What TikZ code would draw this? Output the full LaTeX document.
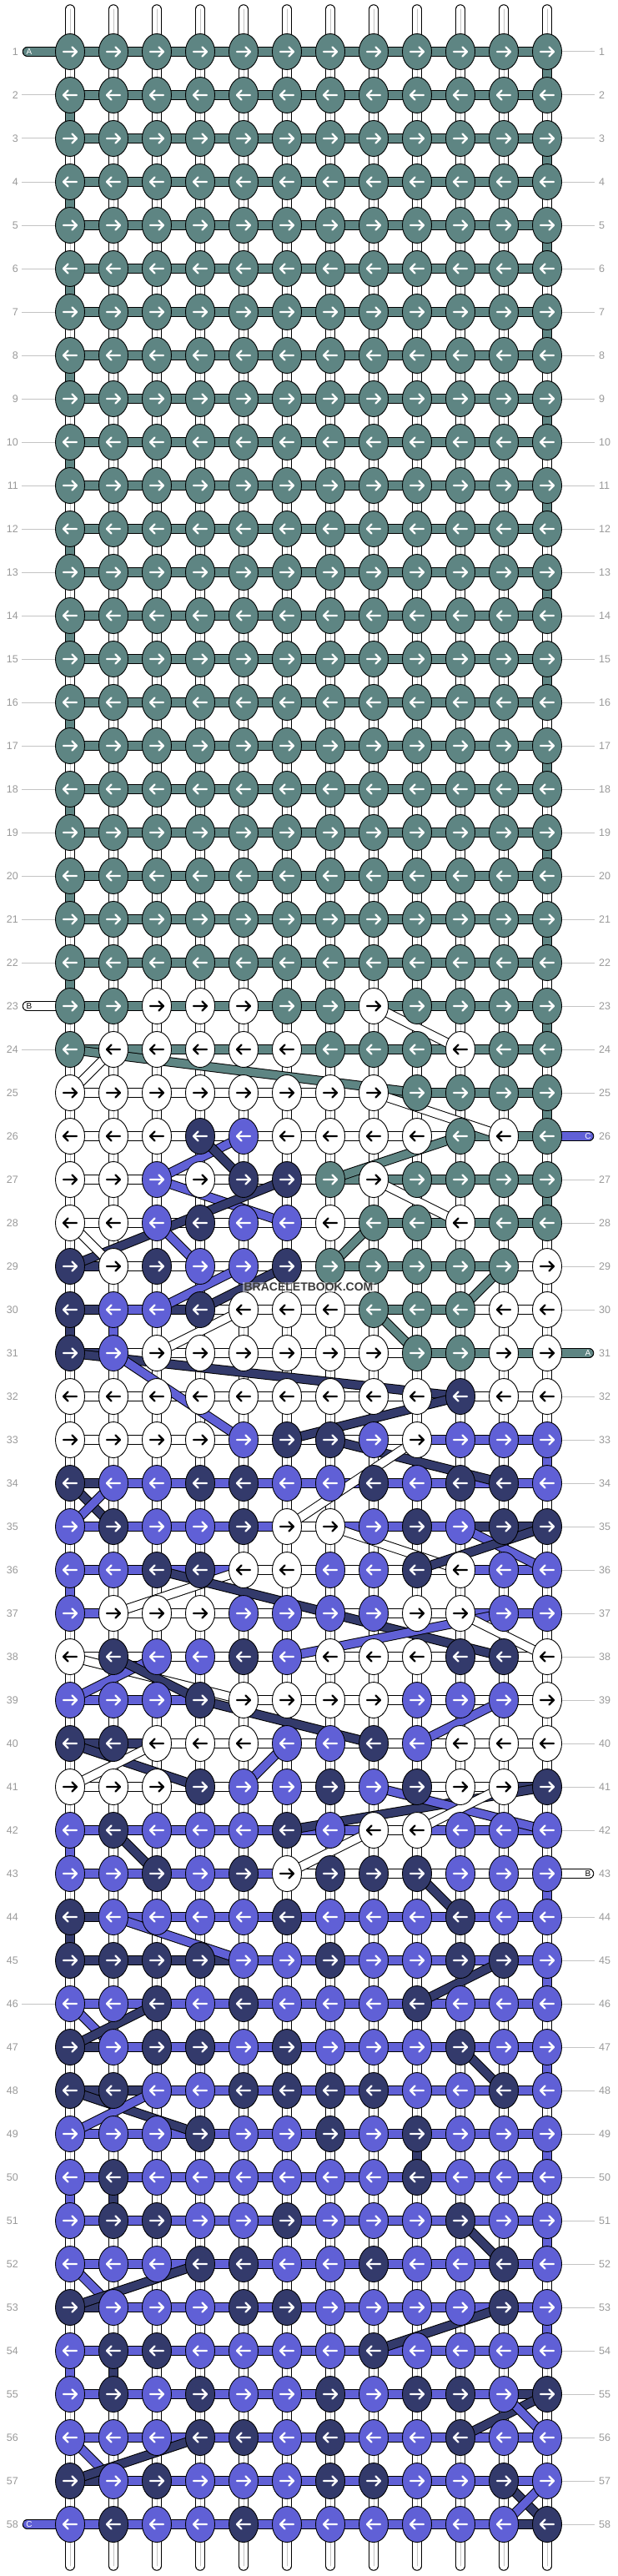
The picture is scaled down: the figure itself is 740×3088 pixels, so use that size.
\documentclass[tikz,border=0pt]{standalone}
\usepackage{fontspec}
\setmainfont{Liberation Sans}
\usetikzlibrary{shapes.geometric}
\definecolor{cT}{HTML}{5E8583}
\definecolor{cB}{HTML}{6060D6}
\definecolor{cN}{HTML}{333A6B}
\definecolor{cW}{HTML}{FFFFFF}
\definecolor{cG}{HTML}{9A9A9A}
\definecolor{cL}{HTML}{C4C4C4}
\definecolor{cM}{HTML}{3C3C3C}
\pgfdeclarelayer{bg}
\pgfdeclarelayer{strands}
\pgfsetlayers{bg,strands,main}
\newcommand{\sband}[4][]{%
  \draw[line width=11.5pt, black, #1] (#3) -- (#4);
  \draw[line width=9.5pt, color=c#2, #1] (#3) -- (#4);}
\newcommand{\vband}[4][]{%
  \sband[#1]{#2}{#3}{#4}%
  \if W#2\draw[line width=0.8pt, cL, #1] (#3) -- (#4);\fi}
\newcommand{\knotat}[3]{%
  \node[knot, fill=c#3] (k#1-#2) at ({32+52*#1},{10+52*#2}) {};
  \ifodd#2\relax\def\kdir{1}\else\def\kdir{-1}\fi
  \if W#3\def\kac{black}\else\def\kac{white}\fi
  \draw[kar, draw=\kac, shift={(k#1-#2.center)}, xscale=\kdir] (-8,0) -- (7,0) (2.5,-5.5) -- (8,0) -- (2.5,5.5);}
\begin{document}
\begin{tikzpicture}[x=1pt,y=-1pt,
  knot/.style={ellipse, draw=black, line width=0.9pt, minimum width=35pt, minimum height=43pt, inner sep=0pt},
  kar/.style={line width=2.3pt, line cap=round, line join=round},
  rnum/.style={text=cG, font=\fontsize{12.5}{14}\selectfont, inner sep=0pt},
  slab/.style={font=\fontsize{10}{12}\selectfont, inner sep=0pt},
  gline/.style={cL, line width=1pt}]
\begin{pgfonlayer}{bg}
\fill[white] (0,0) rectangle (740,3088);
\end{pgfonlayer}
\useasboundingbox (0,0) rectangle (740,3088);
% knots
\foreach \r in {1,...,22}{\foreach \c in {1,...,12}{\knotat{\c}{\r}{T}}}
\foreach \r/\row in {
23/{T,T,W,W,W,T,T,W,T,T,T,T},
24/{T,W,W,W,W,W,T,T,T,W,T,T},
25/{W,W,W,W,W,W,W,W,T,T,T,T},
26/{W,W,W,N,B,W,W,W,W,T,W,T},
27/{W,W,B,W,N,N,T,W,T,T,T,T},
28/{W,W,B,N,B,B,W,T,T,W,T,T},
29/{N,W,N,B,B,N,T,T,T,T,T,W},
30/{N,B,B,N,W,W,W,T,T,T,W,W},
31/{N,B,W,W,W,W,W,W,T,T,W,W},
32/{W,W,W,W,W,W,W,W,W,N,W,W},
33/{W,W,W,W,B,N,N,B,W,B,B,B},
34/{N,B,B,N,N,B,B,N,B,N,N,B},
35/{B,N,B,B,N,W,W,B,N,B,N,N},
36/{B,B,N,N,W,W,B,B,N,W,B,B},
37/{B,W,W,W,B,B,B,B,W,W,B,B},
38/{W,N,B,B,N,B,W,W,W,N,N,W},
39/{B,B,B,N,W,W,W,W,B,B,B,W},
40/{N,N,W,W,W,B,B,N,B,W,W,W},
41/{W,W,W,N,B,B,N,B,N,W,W,N},
42/{B,N,B,B,B,N,B,W,W,B,B,B},
43/{B,B,N,B,N,W,N,N,N,B,B,B},
44/{N,B,B,B,B,N,B,B,B,N,B,B},
45/{N,N,N,N,B,B,N,B,B,N,N,B},
46/{B,B,N,B,N,B,B,B,N,B,B,B},
47/{N,B,N,N,B,N,B,B,B,N,B,B},
48/{N,N,B,B,N,N,N,N,B,B,N,B},
49/{B,B,B,N,B,B,N,B,N,B,B,B},
50/{B,N,B,B,B,B,B,B,N,B,B,B},
51/{B,N,N,B,B,N,B,B,B,N,B,B},
52/{B,B,B,N,N,B,B,N,B,B,N,B},
53/{N,B,B,B,N,N,B,B,B,B,N,B},
54/{B,N,N,B,B,B,B,N,B,B,B,B},
55/{B,N,B,N,B,B,N,B,N,N,B,N},
56/{B,B,B,N,N,B,N,B,B,N,B,B},
57/{N,B,N,B,B,B,N,N,B,B,N,B},
58/{B,N,B,B,N,B,B,B,B,B,B,N}}{\foreach \k [count=\c] in \row {\knotat{\c}{\r}{\k}}}
% watermark
\node[fill=white, fill opacity=0.45, text opacity=1, text=cM, inner sep=1.5pt,
  font=\bfseries\fontsize{14}{16}\selectfont] (wm) at (370,1543) {BRACELETBOOK.COM};
% row numbers
\foreach \r in {1,...,58}{
  \node[rnum, anchor=east] (rowL\r) at (22,{10+52*\r}) {\r};
  \node[rnum, anchor=west] (rowR\r) at (718,{10+52*\r}) {\r};}
\foreach \r in {2,...,22,24,...,57}{\draw[gline, shorten >=4pt] (k1-\r.west) -- (k1-\r.west -| rowL\r.east);}
\foreach \r in {1,...,25,27,28,29,30,32,33,...,42,44,45,...,58}{\draw[gline, shorten >=5pt] (k12-\r.east) -- (k12-\r.east -| rowR\r.west);}
% strand labels
\node[slab, text=white] (labA1) at (35,62) {A};
\node[slab, text=black] (labB1) at (35,1206) {B};
\node[slab, text=white] (labC1) at (35,3026) {C};
\node[slab, text=white] (labC2) at (705,1362) {C};
\node[slab, text=white] (labA2) at (705,1622) {A};
\node[slab, text=black] (labB2) at (705,2246) {B};
\begin{pgfonlayer}{strands}
\foreach \c in {1,...,12}{
  \coordinate (t\c) at ({32+52*\c},11);
  \coordinate (b\c) at ({32+52*\c},3076);
  \vband[line cap=round]{W}{t\c}{k\c-1.center}
  \vband[line cap=round]{W}{k\c-58.center}{b\c}}
\foreach \r in {1,...,57}{\pgfmathtruncatemacro\rn{\r+1}\foreach \c in {1,...,12}{\vband{W}{k\c-\r.center}{k\c-\rn.center}}}
\foreach \r in {1,3,...,21}{\pgfmathtruncatemacro\rn{\r+1}\vband{T}{k12-\r.center}{k12-\rn.center}}
\foreach \r in {2,4,...,22}{\pgfmathtruncatemacro\rn{\r+1}\vband{T}{k1-\r.center}{k1-\rn.center}}
\foreach \c/\r/\k in {12/23/T,12/25/T,12/27/T,1/30/N,2/30/B,12/33/B,1/36/B,1/42/B,12/43/B,1/44/N,12/45/B,12/47/B,12/49/B,9/49/N,1/50/B,2/50/N,12/51/B,12/53/B,1/54/B,2/54/N}{\pgfmathtruncatemacro\rn{\r+1}\vband{\k}{k\c-\r.center}{k\c-\rn.center}}
% horizontal bars
\foreach \r in {1,...,24}{\foreach \c in {1,...,11}{\pgfmathtruncatemacro\cn{\c+1}\sband{T}{k\c-\r.center}{k\cn-\r.center}}}
\foreach \r/\row in {
25/{W,W,W,W,W,W,W,T,T,T,T},
26/{W,W,W,W,W,W,W,W,W,T,T},
27/{W,W,W,W,W,W,T,T,T,T,T},
28/{W,W,W,W,W,W,W,T,T,T,T},
29/{N,W,W,W,W,W,T,T,T,T,W},
30/{N,B,N,W,W,W,W,T,T,W,W},
31/{N,W,W,W,W,W,W,W,T,T,T},
32/{W,W,W,W,W,W,W,W,W,W,W},
33/{W,W,W,W,W,W,W,W,B,B,B},
34/{N,B,B,B,B,B,B,B,B,B,B},
35/{B,B,B,B,B,W,B,B,B,N,N},
36/{B,B,B,B,W,W,W,W,W,B,B},
37/{B,W,W,W,W,W,W,W,W,B,B},
38/{W,W,W,W,W,W,W,W,W,W,W},
39/{B,B,B,W,W,W,W,W,W,W,W},
40/{N,N,W,W,W,W,W,W,W,W,W},
41/{W,W,W,W,W,W,W,W,W,W,N},
42/{B,B,B,B,B,B,B,W,B,B,B},
43/{B,B,B,B,B,W,W,W,W,W,W},
44/{N,B,B,B,B,B,B,B,B,B,B},
45/{N,N,N,N,B,B,B,B,B,B,B},
46/{B,B,B,B,B,B,B,B,B,B,B},
47/{N,B,B,B,B,B,B,B,B,B,B},
48/{N,N,B,B,B,B,B,B,B,B,B},
49/{B,B,B,B,B,B,B,B,B,B,B},
50/{B,B,B,B,B,B,B,B,B,B,B},
51/{B,B,B,B,B,B,B,B,B,B,B},
52/{B,B,B,B,B,B,B,B,B,B,B},
53/{N,B,B,B,B,B,B,B,B,B,B},
54/{B,B,B,B,B,B,B,B,B,B,B},
55/{B,B,B,B,B,B,B,B,B,B,N},
56/{B,B,B,B,B,B,B,B,B,B,B},
57/{N,B,B,B,B,B,B,B,B,B,B},
58/{B,B,B,B,B,B,B,B,B,B,N}}{\foreach \k [count=\c] in \row {\pgfmathtruncatemacro\cn{\c+1}\sband{\k}{k\c-\r.center}{k\cn-\r.center}}}
% diagonal strands
\foreach \k/\ca/\ra/\cb/\rb in {
W/8/23/10/24, W/2/24/1/25, T/1/24/9/25, W/8/25/11/26, T/10/26/7/27, B/5/26/3/27, N/4/26/5/27,
B/3/27/6/28, N/6/27/1/29, W/8/27/10/28, W/1/28/2/29, B/3/28/4/29, T/8/28/7/29,
N/6/29/4/30, B/5/29/3/30, T/11/29/10/30, T/8/30/9/31, W/5/30/3/31,
N/1/31/10/32, B/2/31/5/33, N/10/32/6/33, N/7/33/11/34, W/9/33/6/35,
N/1/34/2/35, B/2/34/1/35, W/7/35/10/36, B/10/35/12/36, N/12/35/9/36,
W/5/36/2/37, N/3/36/11/38, B/6/38/11/37, W/10/37/12/38,
W/1/38/5/39, B/1/39/3/38, N/2/38/4/39, N/4/39/8/40, B/11/39/9/40,
N/1/40/4/41, W/3/40/1/41, B/6/40/5/41, N/12/41/6/42, B/8/41/12/42, W/11/41/9/42,
W/8/42/6/43, N/2/42/3/43, N/9/43/10/44, B/2/44/5/45, N/11/45/9/46,
B/1/46/2/47, N/3/46/1/47, N/10/47/11/48, N/1/48/4/49, B/3/48/1/49,
N/10/51/11/52, B/1/52/2/53, N/4/52/1/53, N/11/53/8/54,
N/12/55/10/56, B/11/55/12/56, B/1/56/2/57, N/4/56/1/57, N/11/57/12/58, B/12/57/11/58}
{\sband{\k}{k\ca-\ra.center}{k\cb-\rb.center}}
% strand end bars
\coordinate (LA) at (32.5,62);
\coordinate (LB) at (32.5,1206);
\coordinate (LC) at (32.5,3026);
\coordinate (RC) at (706.5,1362);
\coordinate (RA) at (706.5,1622);
\coordinate (RB) at (706.5,2246);
\sband[line cap=round]{T}{LA}{k1-1.center}
\sband[line cap=round]{W}{LB}{k1-23.center}
\sband[line cap=round]{B}{LC}{k1-58.center}
\sband[line cap=round]{B}{k12-26.center}{RC}
\sband[line cap=round]{T}{k12-31.center}{RA}
\sband[line cap=round]{W}{k12-43.center}{RB}
\end{pgfonlayer}
\end{tikzpicture}
\end{document}
